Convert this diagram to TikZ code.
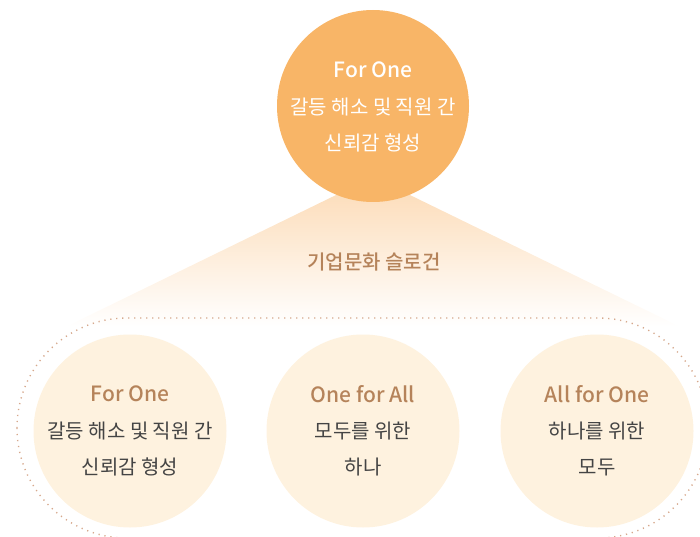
\documentclass[tikz,border=0pt]{standalone}
\usepackage{fontspec}
\setmainfont{Noto Sans CJK KR}[BoldFont={Noto Sans CJK KR Medium}]
\usepackage{tikz}
\usetikzlibrary{positioning, calc}

\definecolor{hubfill}{HTML}{F8B567}
\definecolor{leaffill}{HTML}{FEF2DF}
\definecolor{titlebrown}{HTML}{B5835A}
\definecolor{dotbrown}{HTML}{D6A88C}
\definecolor{bodygray}{HTML}{444444}
\definecolor{fanpeach}{HTML}{FCDAB4}

% path box sits between 25bp and 75bp of the shading
\pgfdeclareverticalshading{fanfade}{100bp}{color(0bp)=(white); color(33bp)=(white); color(75bp)=(fanpeach); color(100bp)=(fanpeach)}

\begin{document}
\begin{tikzpicture}[x=1pt, y=-1pt,
        hub/.style={circle, fill=hubfill, minimum size=192pt, inner sep=0pt},
        leaf/.style={circle, fill=leaffill, minimum size=193pt, inner sep=0pt},
        headtext/.style={font=\fontsize{21}{25}\selectfont\bfseries, text=titlebrown},
        bodytext/.style={font=\fontsize{20}{36}\selectfont, text=bodygray, align=center}]

        \useasboundingbox (0,0) rectangle (700,537);
        \clip (0,0) rectangle (700,537);

        % Fan below the top circle
        \shade[shading=fanfade] (373,177) -- (8,355) -- (738,355) -- cycle;

        % Top circle
        \node[hub] (hub) at (373,106) {};
        \node[headtext, text=white, yshift=36pt] (hubtitle) at (hub) {For One};
        \node[bodytext, text=white, yshift=-19pt] (hubbody) at (hub) {갈등 해소 및 직원 간\\신뢰감 형성};

        % Slogan label
        \node[headtext, font=\fontsize{20}{24}\selectfont\bfseries] (slogan) at (374,262) {기업문화 슬로건};

        % Dotted frame round the three slogans
        \draw[dotbrown, line width=1.4pt, dash pattern=on 1.2pt off 4.8pt, rounded corners=110pt]
              (17,318) rectangle (708,538);

        % Three slogan circles
        \foreach \name/\cx/\head/\lineA/\lineB in {forone/130/For One/갈등 해소 및 직원 간/신뢰감 형성,
                                                   oneforall/363/One for All/모두를 위한/하나,
                                                   allforone/597/All for One/하나를 위한/모두} {
            \node[leaf] (\name) at (\cx,431) {};
            \node[headtext, yshift=37pt] (\name-head) at (\name) {\head};
            \node[bodytext, yshift=-18pt] (\name-body) at (\name) {\lineA\\\lineB};
        }

    \end{tikzpicture}
\end{document}
